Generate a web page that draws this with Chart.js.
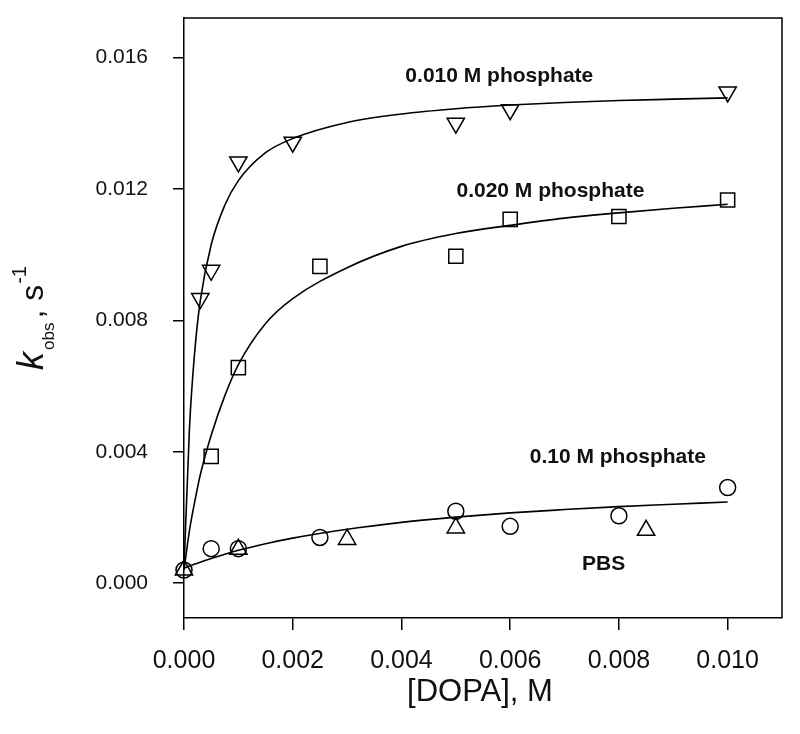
<!DOCTYPE html>
<html>
<head>
<meta charset="utf-8">
<script src="https://cdn.jsdelivr.net/npm/chart.js@4"></script>
<style>
  body { margin: 0; background: #fff; }
</style>
</head>
<body>
<canvas id="kobsGr" width="800" height="734"></canvas>
<script>
// kobs vs [DOPA] for the phosphate buffers

// fitted curves
const curveX = [0, 0.0001, 0.0002, 0.0003, 0.0005, 0.00075, 0.001, 0.0015, 0.002, 0.003, 0.004, 0.005, 0.006, 0.007, 0.008, 0.009, 0.010];
const fit010 = [0.0004, 0.0047, 0.0071, 0.0086, 0.0103, 0.0115, 0.01225, 0.0131, 0.01353, 0.01402, 0.01428, 0.01444, 0.01455, 0.01463, 0.01469, 0.01473, 0.01477];
const fit020 = [0.0004, 0.0016, 0.0025, 0.0033, 0.0045, 0.0057, 0.00665, 0.0079, 0.00866, 0.0096, 0.01025, 0.01064, 0.01089, 0.01111, 0.01127, 0.01141, 0.01153];
const fit100 = [0.00045, 0.00052, 0.00058, 0.00064, 0.00075, 0.00088, 0.0010, 0.0012, 0.00137, 0.00164, 0.00185, 0.00201, 0.00214, 0.00224, 0.00233, 0.0024, 0.00247];

// measured points
const x010 = [0.0003, 0.0005, 0.001, 0.002, 0.005, 0.006, 0.010];
const y010 = [0.00866, 0.00952, 0.01282, 0.01342, 0.0140, 0.01441, 0.01495];
const x020 = [0.0005, 0.001, 0.0025, 0.005, 0.006, 0.008, 0.010];
const y020 = [0.00386, 0.00656, 0.00964, 0.00995, 0.01107, 0.01116, 0.01166];
const x100 = [0, 0.0005, 0.001, 0.0025, 0.005, 0.006, 0.008, 0.010];
const y100 = [0.0004, 0.00105, 0.00105, 0.00139, 0.00219, 0.00173, 0.00205, 0.00291];
const xPBS = [0, 0.001, 0.003, 0.005, 0.0085];
const yPBS = [0.0004, 0.00103, 0.00133, 0.00168, 0.00161];

const xTicks = [0, 0.002, 0.004, 0.006, 0.008, 0.010];
const yTicks = [0, 0.004, 0.008, 0.012, 0.016];

// text labels placed in data units
const labelText = ['0.010 M phosphate', '0.020 M phosphate', '0.10 M phosphate', 'PBS'];
const labelX = [0.0058, 0.00674, 0.00798, 0.00772];
const labelY = [0.01544, 0.01194, 0.00383, 0.00059];

const pts = (xs, ys) => xs.map((x, i) => ({ x: x, y: ys[i] }));

const curva = (ys) => ({
    type: 'line',
    data: pts(curveX, ys),
    borderColor: '#000',
    borderWidth: 1.6,
    pointRadius: 0,
    cubicInterpolationMode: 'monotone',
    fill: false,
    clip: false,
});

const marcas = (xs, ys, style, rot, r) => ({
    type: 'scatter',
    data: pts(xs, ys),
    pointStyle: style,
    rotation: rot,
    pointRadius: r,
    pointHoverRadius: r,
    borderColor: '#000',
    backgroundColor: 'rgba(0,0,0,0)',
    pointBorderWidth: 1.5,
    clip: false,
});

const textos = {
    id: 'textos',
    afterDraw(chart) {
        const ctx = chart.ctx;
        const xs = chart.scales.x;
        const ys = chart.scales.y;
        const a = chart.chartArea;

        // box
        ctx.save();
        ctx.strokeStyle = '#000';
        ctx.lineWidth = 1.5;
        ctx.beginPath();
        ctx.moveTo(a.left, a.top);
        ctx.lineTo(a.right, a.top);
        ctx.lineTo(a.right, a.bottom);
        ctx.stroke();

        // curve labels
        ctx.fillStyle = '#111';
        ctx.font = 'bold 21px "Liberation Sans", Arial, sans-serif';
        ctx.textAlign = 'center';
        ctx.textBaseline = 'middle';
        for (let i = 0; i < labelText.length; i++) {
            ctx.fillText(labelText[i], xs.getPixelForValue(labelX[i]), ys.getPixelForValue(labelY[i]));
        }

        // x title
        ctx.font = '31px "Liberation Sans", Arial, sans-serif';
        ctx.fillText('[DOPA], M', 480, 692);

        // y title: k_obs , s^-1 (rotated)
        ctx.translate(43, 318);
        ctx.rotate(-Math.PI / 2);
        ctx.textAlign = 'left';
        ctx.textBaseline = 'alphabetic';
        const partes = [
            { t: 'k', f: 'italic 36px "Liberation Sans", Arial', dy: 0, gap: 2 },
            { t: 'obs', f: '17px "Liberation Sans", Arial', dy: 11, gap: 4 },
            { t: ', s', f: '32px "Liberation Sans", Arial', dy: 0, gap: 1 },
            { t: '-1', f: '20px "Liberation Sans", Arial', dy: -17, gap: 0 },
        ];
        let total = 0;
        partes.forEach(p => { ctx.font = p.f; p.w = ctx.measureText(p.t).width; total += p.w + p.gap; });
        let cx = -total / 2;
        partes.forEach(p => {
            ctx.font = p.f;
            ctx.fillText(p.t, cx, p.dy);
            cx += p.w + p.gap;
        });
        ctx.restore();
    }
};

const fam = '"Liberation Sans", Arial, sans-serif';

const config = {
    data: {
        datasets: [
            curva(fit010),
            curva(fit020),
            curva(fit100),
            marcas(x010, y010, 'triangle', 180, 10),
            marcas(x020, y020, 'rect', 0, 10),
            marcas(x100, y100, 'circle', 0, 8),
            marcas(xPBS, yPBS, 'triangle', 0, 10),
        ]
    },
    options: {
        responsive: false,
        animation: false,
        events: [],
        layout: { padding: { left: 0, right: 18, top: 18, bottom: 0 } },
        plugins: {
            legend: { display: false },
            tooltip: { enabled: false },
        },
        scales: {
            x: {
                type: 'linear',
                min: 0,
                max: 0.011,
                afterBuildTicks: (axis) => { axis.ticks = xTicks.map(v => ({ value: v })); },
                afterFit: (scale) => { scale.height = 116; scale.paddingLeft = 0; scale.paddingRight = 0; },
                ticks: {
                    callback: (v) => v.toFixed(3),
                    color: '#111',
                    font: { size: 25, family: fam },
                    padding: 16,
                    maxRotation: 0,
                },
                grid: { drawOnChartArea: false, drawTicks: true, tickLength: 12, color: '#000', lineWidth: 1.5 },
                border: { display: true, color: '#000', width: 1.5 },
            },
            y: {
                type: 'linear',
                min: -0.00106,
                max: 0.0172,
                afterBuildTicks: (axis) => { axis.ticks = yTicks.map(v => ({ value: v })); },
                afterFit: (scale) => { scale.width = 184; scale.paddingTop = 0; scale.paddingBottom = 0; },
                ticks: {
                    callback: (v) => v.toFixed(3),
                    color: '#111',
                    font: { size: 21, family: fam },
                    padding: 25,
                },
                grid: { drawOnChartArea: false, drawTicks: true, tickLength: 11, color: '#000', lineWidth: 1.5 },
                border: { display: true, color: '#000', width: 1.5 },
            }
        }
    },
    plugins: [textos],
};

const grafico = new Chart(document.getElementById('kobsGr'), config);
</script>
</body>
</html>
